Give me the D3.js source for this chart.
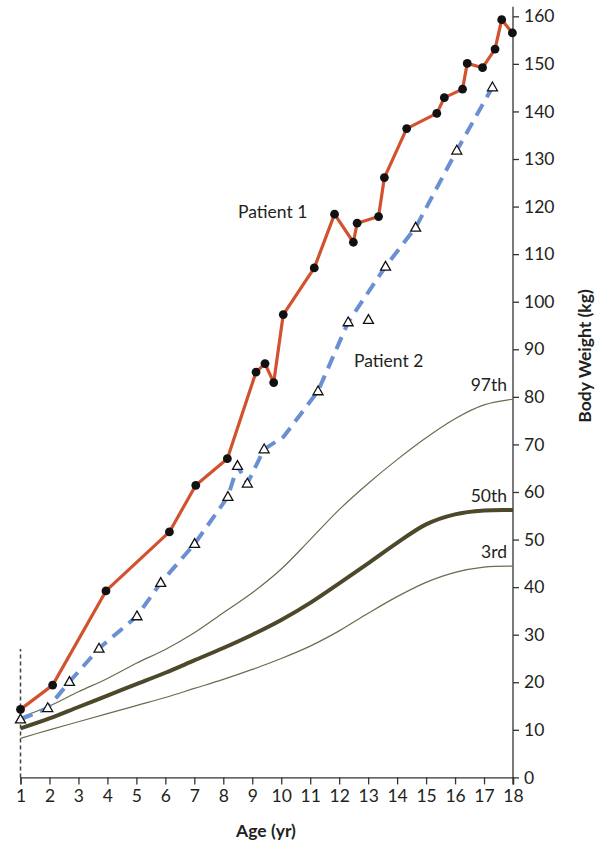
<!DOCTYPE html>
<html>
<head>
<meta charset="utf-8">
<script src="https://cdn.jsdelivr.net/npm/d3@7"></script>
<style>
  body { margin: 0; background: #fff; }
  svg text { font-family: Lato, 'Open Sans', sans-serif; fill: #231f20; }
</style>
</head>
<body>
<script>
const width = 600
const height = 848

// Patient 1 (solid red, black dots)
const p1Age = [1.0, 2.11, 3.95, 6.14, 7.05, 8.14, 9.13, 9.44, 9.74, 10.07, 11.14, 11.84, 12.49, 12.62, 13.36, 13.56, 14.33, 15.37, 15.63, 16.26, 16.42, 16.95, 17.38, 17.61, 17.98]
const p1Wt = [14.3, 19.4, 39.2, 51.6, 61.4, 67.0, 85.2, 87.0, 83.0, 97.3, 107.1, 118.4, 112.5, 116.5, 117.9, 126.1, 136.4, 139.6, 142.9, 144.7, 150.1, 149.2, 153.1, 159.3, 156.5]

// Patient 2 (dashed blue, open triangles)
const p2Age = [1.0, 1.94, 2.69, 3.71, 5.02, 5.84, 7.01, 8.16, 8.49, 8.83, 9.41, 11.27, 12.31, 13.01, 13.6, 14.64, 16.06, 17.29]
const p2Wt = [12.2, 14.6, 20.1, 27.1, 33.9, 40.9, 49.1, 59.0, 65.5, 61.8, 69.0, 81.2, 95.7, 96.2, 107.4, 115.6, 131.8, 145.1]
// vertices of the dashed trend line
const p2LineAge = [1.0, 1.94, 2.69, 3.71, 5.02, 5.84, 7.01, 8.16, 8.49, 8.83, 9.41, 10.08, 11.27, 12.31, 13.6, 14.64, 16.06, 17.29]
const p2LineWt = [12.2, 14.6, 20.1, 27.1, 33.9, 40.9, 49.1, 59.0, 65.5, 61.8, 69.0, 71.6, 81.2, 95.7, 107.4, 115.6, 131.8, 145.1]

// reference percentile curves
const pctAges = [1, 2, 3, 4, 5, 6, 7, 8, 9, 10, 11, 12, 13, 14, 15, 16, 17, 18]
const pct97 = [12.6, 15.0, 18.0, 20.8, 24.0, 26.9, 30.4, 34.6, 38.8, 43.8, 50.0, 56.3, 61.8, 66.8, 71.4, 75.4, 78.3, 79.5]
const pct50 = [10.3, 12.4, 14.8, 17.2, 19.6, 22.0, 24.6, 27.2, 30.0, 33.1, 36.7, 40.8, 45.0, 49.3, 53.2, 55.3, 56.1, 56.2]
const pct3 = [8.2, 10.0, 11.7, 13.4, 15.1, 16.8, 18.7, 20.6, 22.7, 25.0, 27.6, 30.8, 34.5, 38.0, 41.0, 43.1, 44.2, 44.4]

const xTicks = d3.range(1, 19)
const yTicks = d3.range(0, 161, 10)

const x = d3.scaleLinear().domain([1, 18]).range([20.5, 513])
const y = d3.scaleLinear().domain([0, 160]).range([777.4, 16.3])

const svg = d3.select('body').append('svg')
  .attr('width', width)
  .attr('height', height)

const zip = (a, b) => a.map((v, i) => [v, b[i]])
const line = d3.line().x(d => x(d[0])).y(d => y(d[1]))
const curve = d3.line().x(d => x(d[0])).y(d => y(d[1])).curve(d3.curveCatmullRom.alpha(0.5))

// x axis
const xAxis = svg.append('g')
  .attr('transform', `translate(0,${y(0)})`)
  .call(d3.axisBottom(x).tickValues(xTicks).tickFormat(d3.format('d')).tickSizeOuter(0).tickSize(7).tickPadding(5))
xAxis.select('.domain').attr('stroke', '#333').attr('stroke-width', 1.3)
xAxis.selectAll('.tick line').attr('stroke', '#333').attr('stroke-width', 1.3)
xAxis.selectAll('.tick text').attr('font-size', 17.5).attr('font-family', 'Lato').attr('fill', '#231f20')

// y axis on the right
const yAxis = svg.append('g')
  .attr('transform', `translate(${x(18)},0)`)
  .call(d3.axisRight(y).tickValues(yTicks).tickSizeOuter(0).tickSize(6).tickPadding(5))
yAxis.select('.domain').attr('stroke', '#333').attr('stroke-width', 1.3)
  .attr('d', `M0,${y(0) + 7}V${y(162)}`)
yAxis.selectAll('.tick line').attr('stroke', '#333').attr('stroke-width', 1.3)
yAxis.selectAll('.tick text').attr('font-size', 17.5).attr('font-family', 'Lato').attr('fill', '#231f20')

// dashed marker at age 1
svg.append('line')
  .attr('x1', x(1)).attr('x2', x(1))
  .attr('y1', y(0)).attr('y2', y(27))
  .attr('stroke', '#444')
  .attr('stroke-width', 1.5)
  .attr('stroke-dasharray', '4,3')

// percentile curves
const pcts = [
  { vals: pct97, w: 1.2, label: '97th' },
  { vals: pct50, w: 4, label: '50th' },
  { vals: pct3, w: 1.2, label: '3rd' }
]
pcts.forEach(p => {
  svg.append('path')
    .datum(zip(pctAges, p.vals))
    .attr('d', curve)
    .attr('fill', 'none')
    .attr('stroke', p.w > 2 ? '#4c4829' : '#6e6a4f')
    .attr('stroke-width', p.w)
  svg.append('text')
    .attr('x', 507)
    .attr('y', y(p.vals[p.vals.length - 1]) - 8)
    .attr('text-anchor', 'end')
    .attr('font-size', 17.5)
    .text(p.label)
})

// patient 2 dashed line
svg.append('path')
  .datum(zip(p2LineAge, p2LineWt))
  .attr('d', line)
  .attr('fill', 'none')
  .attr('stroke', '#6b8fd3')
  .attr('stroke-width', 4)
  .attr('stroke-dasharray', '13,8')

// patient 1 solid line
svg.append('path')
  .datum(zip(p1Age, p1Wt))
  .attr('d', line)
  .attr('fill', 'none')
  .attr('stroke', '#d2522f')
  .attr('stroke-width', 3.2)
  .attr('stroke-linejoin', 'round')

// triangles
svg.append('g').selectAll('path')
  .data(zip(p2Age, p2Wt))
  .enter()
  .append('path')
  .attr('transform', d => `translate(${x(d[0])},${y(d[1])})`)
  .attr('d', 'M0,-5.2L5,3.6L-5,3.6Z')
  .attr('fill', '#fff')
  .attr('stroke', '#111')
  .attr('stroke-width', 1.3)

// dots
svg.append('g').selectAll('circle')
  .data(zip(p1Age, p1Wt))
  .enter()
  .append('circle')
  .attr('cx', d => x(d[0]))
  .attr('cy', d => y(d[1]))
  .attr('r', 4.4)
  .attr('fill', '#111')

// series labels
svg.append('text').attr('x', 238).attr('y', 218).attr('font-size', 17.5).text('Patient 1')
svg.append('text').attr('x', 354).attr('y', 367).attr('font-size', 17.5).text('Patient 2')

// axis titles
svg.append('text')
  .attr('x', 266).attr('y', 837)
  .attr('text-anchor', 'middle')
  .attr('font-size', 17.5)
  .attr('font-weight', 'bold')
  .text('Age (yr)')

svg.append('text')
  .attr('transform', 'translate(591,356) rotate(-90)')
  .attr('text-anchor', 'middle')
  .attr('font-size', 17.5)
  .attr('font-weight', 'bold')
  .text('Body Weight (kg)')
</script>
</body>
</html>
